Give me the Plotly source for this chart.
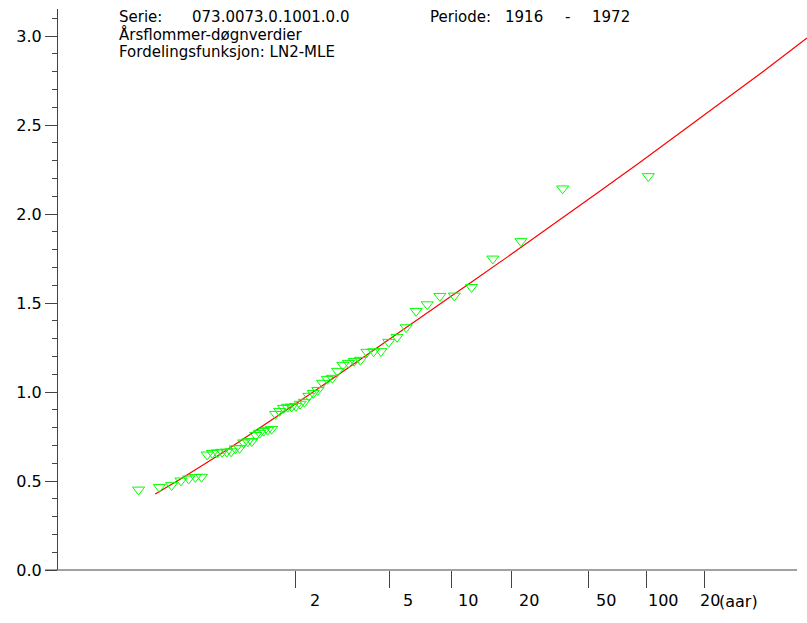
import numpy as np
import plotly.graph_objects as go

# ---------------- data ----------------
# Observed annual floods (sorted ascending) and their plotting-position return periods (years)
obs_return_period = [
    1.0099, 1.0281, 1.0469, 1.0665, 1.0868, 1.1078, 1.1297, 1.1525, 1.1763, 1.2010,
    1.2268, 1.2537, 1.2819, 1.3113, 1.3421, 1.3744, 1.4083, 1.4439, 1.4813, 1.5208,
    1.5624, 1.6063, 1.6528, 1.7020, 1.7543, 1.8099, 1.8691, 1.9323, 2.0000, 2.0726,
    2.1506, 2.2347, 2.3257, 2.4244, 2.5319, 2.6494, 2.7782, 2.9202, 3.0776, 3.2528,
    3.4493, 3.6710, 3.9231, 4.2124, 4.5478, 4.9412, 5.4091, 5.9749, 6.6729, 7.5556,
    8.7073, 10.273, 12.526, 16.045, 22.313, 36.615, 102.0,
]
obs_flow = [
    0.451, 0.466, 0.476, 0.502, 0.513, 0.522, 0.523, 0.648, 0.657, 0.660,
    0.663, 0.664, 0.666, 0.683, 0.685, 0.716, 0.722, 0.723, 0.758, 0.770,
    0.781, 0.787, 0.792, 0.876, 0.893, 0.910, 0.916, 0.917, 0.921, 0.933,
    0.944, 0.978, 0.994, 1.011, 1.051, 1.073, 1.079, 1.118, 1.152, 1.163,
    1.174, 1.180, 1.225, 1.228, 1.229, 1.281, 1.309, 1.363, 1.455, 1.492,
    1.539, 1.541, 1.589, 1.749, 1.847, 2.143, 2.212,
]

# Fitted LN2 (MLE) curve
fit_return_period = [1.0233, 1.0707, 1.2381, 1.5820, 2.1988, 3.2489, 5.0, 7.899,
                     12.69, 20.58, 33.67, 55.1, 90.5, 148.8, 245.1, 403.2, 689.0]
fit_flow = [0.427, 0.518, 0.664, 0.818, 0.976, 1.136, 1.297, 1.459,
            1.622, 1.785, 1.950, 2.117, 2.284, 2.454, 2.625, 2.798, 2.989]

xtick_periods = [2, 5, 10, 20, 50, 100, 200]
xtick_labels = ["2", "5", "10", "20", "50", "100", "20"]
ytick_vals = [0.0, 0.5, 1.0, 1.5, 2.0, 2.5, 3.0]

header_line1 = ["Serie:", "073.0073.0.1001.0.0", "Periode:", "1916", "-", "1972"]
header_line2 = "Årsflommer-døgnverdier"
header_line3 = "Fordelingsfunksjon: LN2-MLE"
unit_label = "(aar)"

# ---------------- styling / layout constants ----------------
W, H = 807, 623
ML, MT, MB, MR = 58, 9, 53, 0
XR = [-2.504, 6.535]
YR = [0.0, 3.152]
FONT = "DejaVu Sans"
AX = "#444444"
xlabel_shift = [12, 11, 4, 5, 5, -1, -6]
header1_px = [117, 190, 428, 503, 563, 590]
header_rows_py = [16.5, 34, 51.5]
HEADER_SIZE = 15


def gumbel_u(T):
    T = np.asarray(T, dtype=float)
    return -np.log(-np.log(1.0 - 1.0 / T))


plot_w = W - ML - MR
plot_h = H - MT - MB


def px_to_paper_x(px):
    return (px - ML) / plot_w


def py_to_paper_y(py):
    return (H - MB - py) / plot_h


fig = go.Figure()

fig.add_trace(go.Scatter(
    x=gumbel_u(fit_return_period), y=fit_flow, mode="lines",
    line=dict(color="#ff0000", width=1.2), hoverinfo="skip", showlegend=False,
))
fig.add_trace(go.Scatter(
    x=gumbel_u(obs_return_period), y=obs_flow, mode="markers",
    marker=dict(symbol="triangle-down-open", size=10.5, color="#00ff00",
                line=dict(color="#00ff00", width=1)),
    showlegend=False,
))

annotations = []
# x tick labels
for T, lab, sh in zip(xtick_periods, xtick_labels, xlabel_shift):
    annotations.append(dict(x=float(gumbel_u(T)), xref="x", y=py_to_paper_y(600), yref="paper",
                            text=lab, showarrow=False, xanchor="left", yanchor="middle",
                            xshift=sh, font=dict(family=FONT, size=16, color="black")))
annotations.append(dict(x=px_to_paper_x(717), xref="paper", y=py_to_paper_y(601), yref="paper",
                        text=unit_label, showarrow=False, xanchor="left", yanchor="middle",
                        font=dict(family=FONT, size=16, color="black")))
# header
for txt, px in zip(header_line1, header1_px):
    annotations.append(dict(x=px_to_paper_x(px), xref="paper", y=py_to_paper_y(header_rows_py[0]),
                            yref="paper", text=txt, showarrow=False, xanchor="left",
                            yanchor="middle",
                            font=dict(family=FONT, size=HEADER_SIZE, color="black")))
for txt, py in zip([header_line2, header_line3], header_rows_py[1:]):
    annotations.append(dict(x=px_to_paper_x(117), xref="paper", y=py_to_paper_y(py), yref="paper",
                            text=txt, showarrow=False, xanchor="left", yanchor="middle",
                            font=dict(family=FONT, size=HEADER_SIZE, color="black")))

shapes = [
    dict(type="line", xref="paper", yref="paper",
         x0=px_to_paper_x(45), x1=px_to_paper_x(797), y0=0, y1=0,
         line=dict(color=AX, width=1)),
]

fig.update_layout(
    width=W, height=H, autosize=False,
    margin=dict(l=ML, r=MR, t=MT, b=MB, pad=0),
    paper_bgcolor="white", plot_bgcolor="white",
    showlegend=False,
    annotations=annotations, shapes=shapes,
    xaxis=dict(range=XR, showgrid=False, zeroline=False, showline=False,
               tickvals=[float(v) for v in gumbel_u(xtick_periods)],
               ticks="outside", ticklen=17, tickwidth=1, tickcolor=AX,
               showticklabels=False, fixedrange=True),
    yaxis=dict(range=YR, showgrid=False, zeroline=False, showline=True,
               linecolor=AX, linewidth=1,
               tickvals=ytick_vals, ticktext=[f"{v:.1f}" for v in ytick_vals],
               ticks="outside", ticklen=12, tickwidth=1, tickcolor=AX,
               tickfont=dict(family=FONT, size=16, color="black"),
               minor=dict(dtick=0.1, tick0=0, ticks="outside", ticklen=5,
                          tickwidth=1, tickcolor=AX),
               fixedrange=True),
)

fig.write_html(
    "out.html",
    config={"displayModeBar": False},
    post_script="document.body.style.margin='0';document.body.style.overflow='hidden';",
)
